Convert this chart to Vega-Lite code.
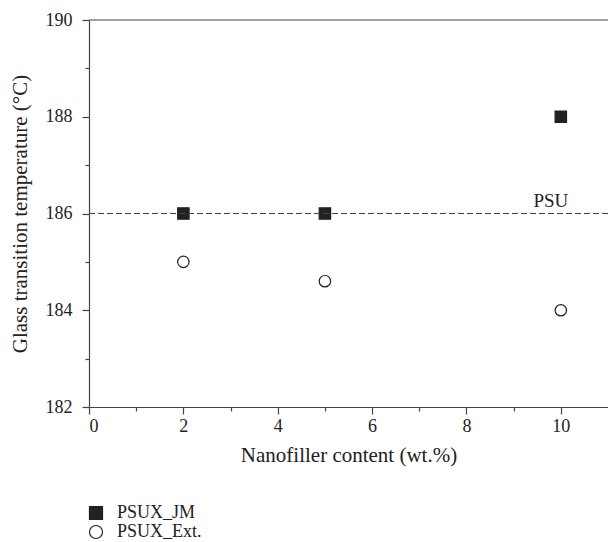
{
  "$schema": "https://vega.github.io/schema/vega-lite/v6.json",
  "width": 519,
  "height": 387,
  "autosize": "none",
  "padding": {"left": 89, "top": 20, "right": 0, "bottom": 135},
  "config": {
    "font": "Liberation Serif",
    "view": {"stroke": null},
    "axis": {"grid": false, "domainColor": "#444", "tickColor": "#444", "labelColor": "#222", "titleColor": "#222", "labelFont": "Liberation Serif", "titleFont": "Liberation Serif", "labelFontSize": 18, "titleFontSize": 21, "titleFontWeight": "normal", "domainWidth": 1.2, "tickWidth": 1.2},
    "legend": {"labelFont": "Liberation Serif", "labelFontSize": 18, "labelColor": "#222"}
  },
  "datasets": {
    "pts": [
      {"content": 2, "tg": 186, "series": "PSUX_JM"},
      {"content": 5, "tg": 186, "series": "PSUX_JM"},
      {"content": 10, "tg": 188, "series": "PSUX_JM"},
      {"content": 2, "tg": 185, "series": "PSUX_Ext."},
      {"content": 5, "tg": 184.6, "series": "PSUX_Ext."},
      {"content": 10, "tg": 184, "series": "PSUX_Ext."}
    ]
  },
  "resolve": {"axis": {"x": "independent", "y": "independent"}},
  "layer": [
    {
      "data": {"name": "pts"},
      "mark": {"type": "point", "filled": true, "stroke": "#222", "strokeWidth": 1.2, "opacity": 1},
      "encoding": {
        "x": {"field": "content", "type": "quantitative", "scale": {"domain": [0, 11], "nice": false, "zero": false},
          "axis": {"orient": "bottom", "values": [0, 2, 4, 6, 8, 10], "tickSize": 7, "labelPadding": 3, "title": "Nanofiller content (wt.%)", "titlePadding": 9}},
        "y": {"field": "tg", "type": "quantitative", "scale": {"domain": [182, 190], "nice": false, "zero": false},
          "axis": {"orient": "left", "values": [182, 184, 186, 188, 190], "tickSize": 7, "labelPadding": 10, "title": "Glass transition temperature (°C)", "titlePadding": 15}},
        "shape": {"field": "series", "type": "nominal", "scale": {"domain": ["PSUX_JM", "PSUX_Ext."], "range": ["square", "circle"]},
          "legend": {"title": null, "orient": "none", "legendX": -2, "legendY": 484, "symbolSize": 170, "symbolStrokeWidth": 1.2, "rowPadding": 1, "labelOffset": 12}},
        "fill": {"field": "series", "type": "nominal", "scale": {"domain": ["PSUX_JM", "PSUX_Ext."], "range": ["#222222", "#ffffff"]}, "legend": {"title": null, "orient": "none", "legendX": -2, "legendY": 484}},
        "size": {"value": 130}
      }
    },
    {
      "data": {"values": [{"v": 186}]},
      "mark": {"type": "rule", "strokeDash": [6, 3], "color": "#444", "strokeWidth": 1.2},
      "encoding": {
        "y": {"field": "v", "type": "quantitative", "axis": {"orient": "left", "values": [183, 185, 187, 189], "labels": false, "tickSize": 4, "domain": false, "title": null}}
      }
    },
    {
      "data": {"values": [{"v": 190}]},
      "mark": {"type": "rule", "color": "#444", "strokeWidth": 1.2},
      "encoding": {
        "y": {"field": "v", "type": "quantitative", "axis": null}
      }
    },
    {
      "data": {"values": [{"x": 9.79, "y": 186, "label": "PSU"}]},
      "mark": {"type": "text", "dy": -13, "fontSize": 19, "color": "#222", "font": "Liberation Serif"},
      "encoding": {
        "x": {"field": "x", "type": "quantitative", "axis": {"orient": "bottom", "values": [1, 3, 5, 7, 9], "labels": false, "tickSize": 4, "domain": false, "title": null}},
        "y": {"field": "y", "type": "quantitative", "axis": null},
        "text": {"field": "label"}
      }
    }
  ]
}
